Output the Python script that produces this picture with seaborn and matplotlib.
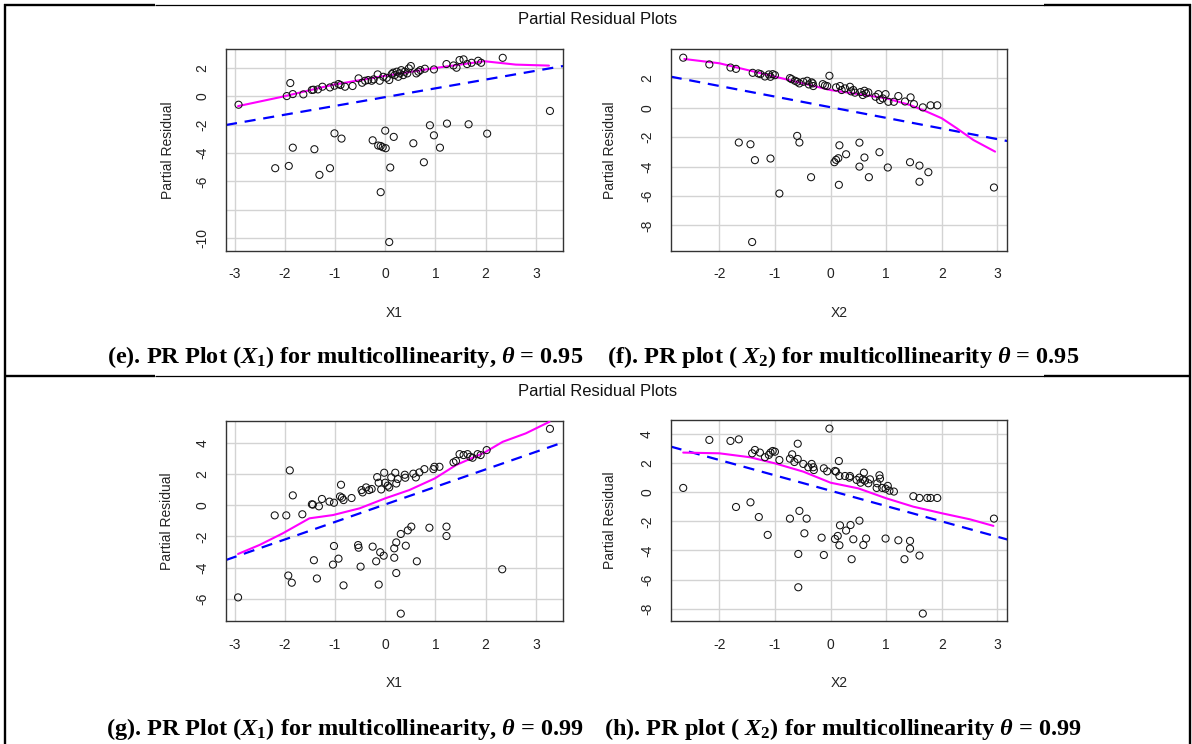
import numpy as np
import pandas as pd
import matplotlib
matplotlib.use("Agg")
import matplotlib.pyplot as plt
from matplotlib.lines import Line2D
import seaborn as sns

# ---------------- data ----------------
# panel (e): X1, theta = 0.95
e_x = [-2.92, -1.89, -1.96, -1.84, -1.63, -2.19, -1.92, -1.84, -1.41, -1.31, -1.10, -1.01, -0.87,
       -0.25, -0.14, -0.09, -0.05, 0.01, 0.00, 0.17, 0.10, -0.09, 0.08, 0.56, 0.77, 0.89, 0.97,
       1.09, 1.23, 1.66, 2.03, 3.28, 2.34,
       -1.46, -1.43, -1.34, -1.25, -1.10, -1.01, -0.93, -0.89, -0.80, -0.65, -0.53, -0.46, -0.40,
       -0.34, -0.27, -0.23, -0.15, -0.11, -0.04, 0.03, 0.08, 0.13, 0.16, 0.19, 0.23, 0.26, 0.29,
       0.32, 0.36, 0.39, 0.44, 0.47, 0.51, 0.62, 0.66, 0.70, 0.79, 0.97, 1.22, 1.36, 1.42, 1.48,
       1.56, 1.63, 1.72, 1.85, 1.91]
e_y = [-0.59, 0.94, 0.02, 0.16, 0.14, -5.07, -4.91, -3.62, -3.73, -5.54, -5.07, -2.61, -2.98,
       -3.10, -3.47, -3.50, -3.59, -3.66, -2.42, -2.86, -5.02, -6.76, -10.28, -3.31, -4.65, -2.04, -2.75,
       -3.62, -1.92, -1.97, -2.63, -1.03, 2.72,
       0.45, 0.47, 0.49, 0.68, 0.63, 0.75, 0.87, 0.80, 0.68, 0.73, 1.27, 0.96, 1.10,
       1.15, 1.10, 1.20, 1.55, 1.10, 1.38, 1.31, 1.15, 1.57, 1.67, 1.50, 1.74, 1.38, 1.62,
       1.85, 1.50, 1.74, 1.62, 1.97, 2.14, 1.62, 1.74, 1.85, 1.95, 1.90, 2.28, 2.18, 2.02, 2.56,
       2.61, 2.28, 2.37, 2.51, 2.37]
e_lx = [-2.93, -2.04, -1.05, 0.00, 1.00, 1.97, 2.60, 3.26]
e_ly = [-0.69, -0.02, 0.81, 1.45, 2.00, 2.48, 2.24, 2.17]
e_slope, e_icpt = 0.62, -0.055

# panel (f): X2, theta = 0.95
f_x = [-2.65, -2.18, -1.80, -1.70, -1.65, -1.44, -1.36, -1.41, -1.08, -0.92, -0.60, -0.56, -0.35,
       -0.02, 0.07, 0.10, 0.14, 0.16, 0.15, 0.28, 0.52, 0.52, 0.61, 0.69, 0.88, 1.03, 1.43, 1.60,
       1.60, 1.76, 2.94,
       -1.40, -1.30, -1.26, -1.18, -1.11, -1.08, -1.04, -1.00, -0.73, -0.70, -0.64, -0.60, -0.56,
       -0.49, -0.42, -0.39, -0.34, -0.31, -0.32, -0.14, -0.10, -0.06, 0.10, 0.17, 0.20, 0.26, 0.35,
       0.37, 0.41, 0.44, 0.54, 0.58, 0.61, 0.64, 0.68, 0.81, 0.86, 0.89, 0.94, 0.99, 1.04, 1.14,
       1.22, 1.34, 1.44, 1.50, 1.66, 1.80, 1.92]
f_y = [3.41, 2.95, 2.74, 2.65, -2.36, -2.48, -3.56, -9.13, -3.45, -5.83, -1.91, -2.36, -4.72,
       2.18, -3.70, -3.54, -3.43, -2.55, -5.24, -3.16, -2.37, -4.00, -3.38, -4.72, -3.02, -4.06, -3.70, -3.93,
       -5.03, -4.38, -5.42,
       2.38, 2.34, 2.29, 2.13, 2.27, 2.11, 2.29, 2.22, 2.02, 1.95, 1.84, 1.77, 1.66,
       1.77, 1.84, 1.59, 1.73, 1.48, 1.66, 1.61, 1.52, 1.48, 1.39, 1.48, 1.21, 1.32, 1.43,
       1.12, 1.21, 1.03, 1.07, 0.87, 1.16, 0.98, 1.05, 0.75, 0.93, 0.53, 0.64, 0.93, 0.41, 0.41,
       0.80, 0.43, 0.71, 0.25, 0.03, 0.17, 0.17]
f_lx = [-2.63, -2.00, -1.00, 0.00, 1.00, 1.43, 1.73, 2.00, 2.27, 2.57, 2.96]
f_ly = [3.32, 3.03, 2.12, 1.21, 0.65, 0.19, -0.26, -0.71, -1.39, -2.19, -2.98]
f_slope, f_icpt = -0.723, 0.04

# panel (g): X1, theta = 0.99
g_x = [-2.93, -2.20, -1.97, -1.90, -1.84, -1.93, -1.86, -1.65, -1.46, -1.44, -1.32, -1.26, -1.11,
       -1.02, -0.88, -0.90, -0.86, -0.83, -0.67, -1.42, -1.36, -1.02, -1.04, -0.93, -0.83, -0.54,
       -0.53, -0.49, -0.47, -0.45, -0.38, -0.32, -0.27, -0.25, -0.18, -0.16, -0.13, -0.10, -0.08,
       -0.13, -0.03, -0.02, 0.00, 0.05, 0.08, 0.12, 0.18, 0.18, 0.20, 0.22, 0.22, 0.22, 0.25, 0.31,
       0.31, 0.39, 0.40, 0.41, 0.45, 0.52, 0.56, 0.61, 0.63, 0.68, 0.78, 0.88, 0.96, 0.98, 1.08,
       1.22, 1.22, 1.36, 1.41, 1.48, 1.56, 1.64, 1.69, 1.74, 1.84, 1.90, 2.02, 2.33, 3.28]
g_y = [-5.90, -0.65, -0.65, 2.23, 0.63, -4.50, -4.96, -0.58, 0.06, 0.04, -0.07, 0.40, 0.23,
       0.16, 1.31, 0.56, 0.48, 0.33, 0.46, -3.52, -4.69, -2.61, -3.80, -3.42, -5.13, -2.55,
       -2.72, -3.93, 0.97, 0.82, 1.14, 0.97, 1.04, -2.65, -3.59, 1.80, -5.08, -3.01, 1.01,
       1.44, -3.23, 2.08, 1.44, 1.25, 1.14, 1.78, -2.76, -3.36, 2.08, 1.39, -2.38, -4.34, 1.68, -1.84,
       -6.94, 1.95, 1.76, -2.59, -1.61, -1.37, 2.02, 1.78, -3.59, 2.10, 2.31, -1.44, 2.31, 2.46, 2.46,
       -1.37, -1.97, 2.74, 2.83, 3.27, 3.21, 3.27, 3.10, 3.04, 3.27, 3.21, 3.53, -4.10, 4.89]
g_lx = [-2.93, -2.50, -2.04, -1.51, -1.04, -0.51, 0.00, 0.48, 0.99, 1.41, 1.97, 2.34, 2.80, 3.27]
g_ly = [-3.12, -2.54, -1.80, -0.84, -0.63, -0.20, 0.44, 0.97, 1.72, 2.57, 3.36, 4.06, 4.60, 5.34]
g_slope, g_icpt = 1.122, 0.05

# panel (h): X2, theta = 0.99
h_x = [-2.65, -2.18, -1.80, -1.65, -1.70, -1.44, -1.29, -1.13, -1.41, -1.36, -1.27, -1.18, -1.11,
       -1.08, -1.04, -1.00, -0.92, -0.73, -0.73, -0.69, -0.65, -0.59, -0.59, -0.56, -0.58, -0.58,
       -0.49, -0.47, -0.43, -0.40, -0.34, -0.31, -0.30, -0.16, -0.12, -0.12, -0.06, -0.02, 0.08,
       0.10, 0.08, 0.13, 0.15, 0.16, 0.16, 0.17, 0.26, 0.28, 0.34, 0.35, 0.36, 0.38, 0.41, 0.47,
       0.52, 0.52, 0.54, 0.58, 0.59, 0.60, 0.62, 0.64, 0.68, 0.71, 0.83, 0.84, 0.88, 0.89, 0.93,
       0.99, 0.99, 1.03, 1.06, 1.14, 1.22, 1.33, 1.43, 1.43, 1.49, 1.60, 1.60, 1.66, 1.74, 1.80,
       1.92, 2.94]
h_y = [0.30, 3.60, 3.53, 3.64, -1.01, -0.69, -1.70, -2.93, 2.68, 2.91, 2.73, 2.41, 2.57,
       2.73, 2.84, 2.79, 2.22, -1.81, 2.31, 2.61, 2.08, 3.34, 2.29, -1.28, -4.24, -6.53,
       1.95, -2.82, -1.81, 1.72, 1.95, 1.72, 1.53, -3.12, 1.65, -4.31, 1.44, 4.38, 1.47,
       1.42, -3.21, -3.00, 2.15, 1.12, -3.64, -2.27, 1.12, -2.63, 1.01, 1.12, -2.25, -4.60, -3.23, 0.85,
       1.01, -1.95, 0.66, 0.89, -3.62, 1.35, 0.80, -3.18, 0.62, 0.89, 0.30, 0.62, 1.17, 0.94, 0.30,
       -3.18, 0.25, 0.44, 0.11, 0.05, -3.30, -4.60, -3.34, -3.87, -0.27, -4.35, -0.39, -8.34, -0.39, -0.39,
       -0.39, -1.81]
h_lx = [-2.65, -2.00, -1.45, -1.00, -0.49, 0.00, 0.50, 1.00, 1.49, 2.00, 2.51, 2.93]
h_ly = [2.73, 2.68, 2.41, 1.99, 1.42, 0.66, 0.27, -0.41, -0.99, -1.44, -1.86, -2.31]
h_slope, h_icpt = -1.055, 0.11

x1_ticks = [-3, -2, -1, 0, 1, 2, 3]
x2_ticks = [-2, -1, 0, 1, 2, 3]
e_yticks = [2, 0, -2, -4, -6, -8, -10]
e_ylabels = ["2", "0", "-2", "-4", "-6", "", "-10"]
f_yticks = [2, 0, -2, -4, -6, -8]
g_yticks = [4, 2, 0, -2, -4, -6]
h_yticks = [4, 2, 0, -2, -4, -6, -8]

main_title = "Partial Residual Plots"
captions_top = [r"(e). PR Plot ($X_1$) for multicollinearity, $\theta$ = 0.95",
                r"(f). PR plot ( $X_2$) for multicollinearity $\theta$ = 0.95"]
captions_bot = [r"(g). PR Plot ($X_1$) for multicollinearity, $\theta$ = 0.99",
                r"(h). PR plot ( $X_2$) for multicollinearity $\theta$ = 0.99"]

# ---------------- style ----------------
sns.set_style("white")
plt.rcParams["font.family"] = ["Liberation Sans", "DejaVu Sans"]
plt.rcParams["mathtext.fontset"] = "custom"
plt.rcParams["mathtext.rm"] = "Liberation Serif:bold"
plt.rcParams["mathtext.bf"] = "Liberation Serif:bold"
plt.rcParams["mathtext.it"] = "Liberation Serif:italic:bold"

W, H = 1192, 744
fig = plt.figure(figsize=(W / 100, H / 100), dpi=100)
fig.patch.set_facecolor("white")


def px_axes(l, t, r, b):
    return fig.add_axes([l / W, 1 - b / H, (r - l) / W, (b - t) / H])


def panel(ax, x, y, lx, ly, slope, icpt, xlim, ylim, xticks, yticks, ylabels, xlabel, ylx, xly):
    ax.set_xlim(*xlim)
    ax.set_ylim(*ylim)
    ax.set_xticks(xticks)
    ax.set_yticks(yticks)
    ax.set_xticklabels([str(t) for t in xticks])
    ax.set_yticklabels(ylabels, rotation=90, va="center")
    ax.grid(True, color="#d3d3d3", lw=1.0, zorder=0)
    ax.set_axisbelow(True)
    ax.axline((0, icpt), slope=slope, color="#0000ff", lw=1.6, ls=(0, (5, 3.5)), zorder=2)
    sns.lineplot(x=lx, y=ly, ax=ax, color="#ff00ff", lw=1.5, estimator=None, sort=True, zorder=3)
    sns.scatterplot(x=x, y=y, ax=ax, s=26, zorder=4)
    pts = ax.collections[-1]
    pts.set_facecolor("none")
    pts.set_edgecolor("#111111")
    pts.set_linewidth(0.75)
    for sp in ax.spines.values():
        sp.set_visible(True)
        sp.set_color("#333333")
        sp.set_linewidth(1.0)
    ax.tick_params(axis="both", direction="out", length=4, width=0.8, color="#333333",
                   labelsize=10, labelcolor="#222222", pad=8)
    ax.set_xlabel(xlabel, fontsize=10, color="#222222", va="center")
    ax.set_ylabel("Partial Residual", fontsize=10, color="#222222", va="center")
    ax.yaxis.set_label_coords(ylx, 0.5)
    ax.xaxis.set_label_coords(0.5, xly)


ax_e = px_axes(226, 49.3, 563, 250.7)
panel(ax_e, e_x, e_y, e_lx, e_ly, e_slope, e_icpt, (-3.17, 3.54), (-10.89, 3.32),
      x1_ticks, e_yticks, e_ylabels, "X1", -0.172, -0.309)

ax_f = px_axes(670.7, 49.3, 1007.3, 250.7)
panel(ax_f, f_x, f_y, f_lx, f_ly, f_slope, f_icpt, (-2.875, 3.18), (-9.72, 3.98),
      x2_ticks, f_yticks, [str(t) for t in f_yticks], "X2", -0.18, -0.309)

ax_g = px_axes(226, 420.7, 563, 621.3)
panel(ax_g, g_x, g_y, g_lx, g_ly, g_slope, g_icpt, (-3.17, 3.54), (-7.43, 5.41),
      x1_ticks, g_yticks, [str(t) for t in g_yticks], "X1", -0.174, -0.308)

ax_h = px_axes(670.7, 420.0, 1007.3, 621.3)
panel(ax_h, h_x, h_y, h_lx, h_ly, h_slope, h_icpt, (-2.875, 3.18), (-8.87, 4.97),
      x2_ticks, h_yticks, [str(t) for t in h_yticks], "X2", -0.18, -0.308)

# titles
fig.text(598 / W, 1 - 20 / H, main_title, ha="center", va="center", fontsize=12, color="#111111")
fig.text(598 / W, 1 - 392 / H, main_title, ha="center", va="center", fontsize=12, color="#111111")

# captions
cap_kw = dict(ha="center", va="center", fontsize=17.5, family="Liberation Serif",
              fontweight="bold", color="black")
fig.text(345 / W, 1 - 357 / H, captions_top[0], **cap_kw)
fig.text(843 / W, 1 - 357 / H, captions_top[1], **cap_kw)
fig.text(345 / W, 1 - 729 / H, captions_bot[0], **cap_kw)
fig.text(843 / W, 1 - 729 / H, captions_bot[1], **cap_kw)


# table borders (figure pixel coordinates)
def hline(y, x0, x1, lw):
    fig.add_artist(Line2D([x0 / W, x1 / W], [1 - y / H, 1 - y / H], transform=fig.transFigure,
                          color="black", lw=lw, solid_capstyle="butt"))


def vline(x, y0, y1, lw):
    fig.add_artist(Line2D([x / W, x / W], [1 - y0 / H, 1 - y1 / H], transform=fig.transFigure,
                          color="black", lw=lw, solid_capstyle="butt"))


for yy in (5, 376):
    hline(yy, 4, 155, 1.7)
    hline(yy, 155, 1044, 0.9)
    hline(yy, 1044, 1191, 1.7)
vline(5, 4, 744, 1.7)
vline(1190, 4, 744, 1.7)

fig.savefig("out.png", dpi=100)
